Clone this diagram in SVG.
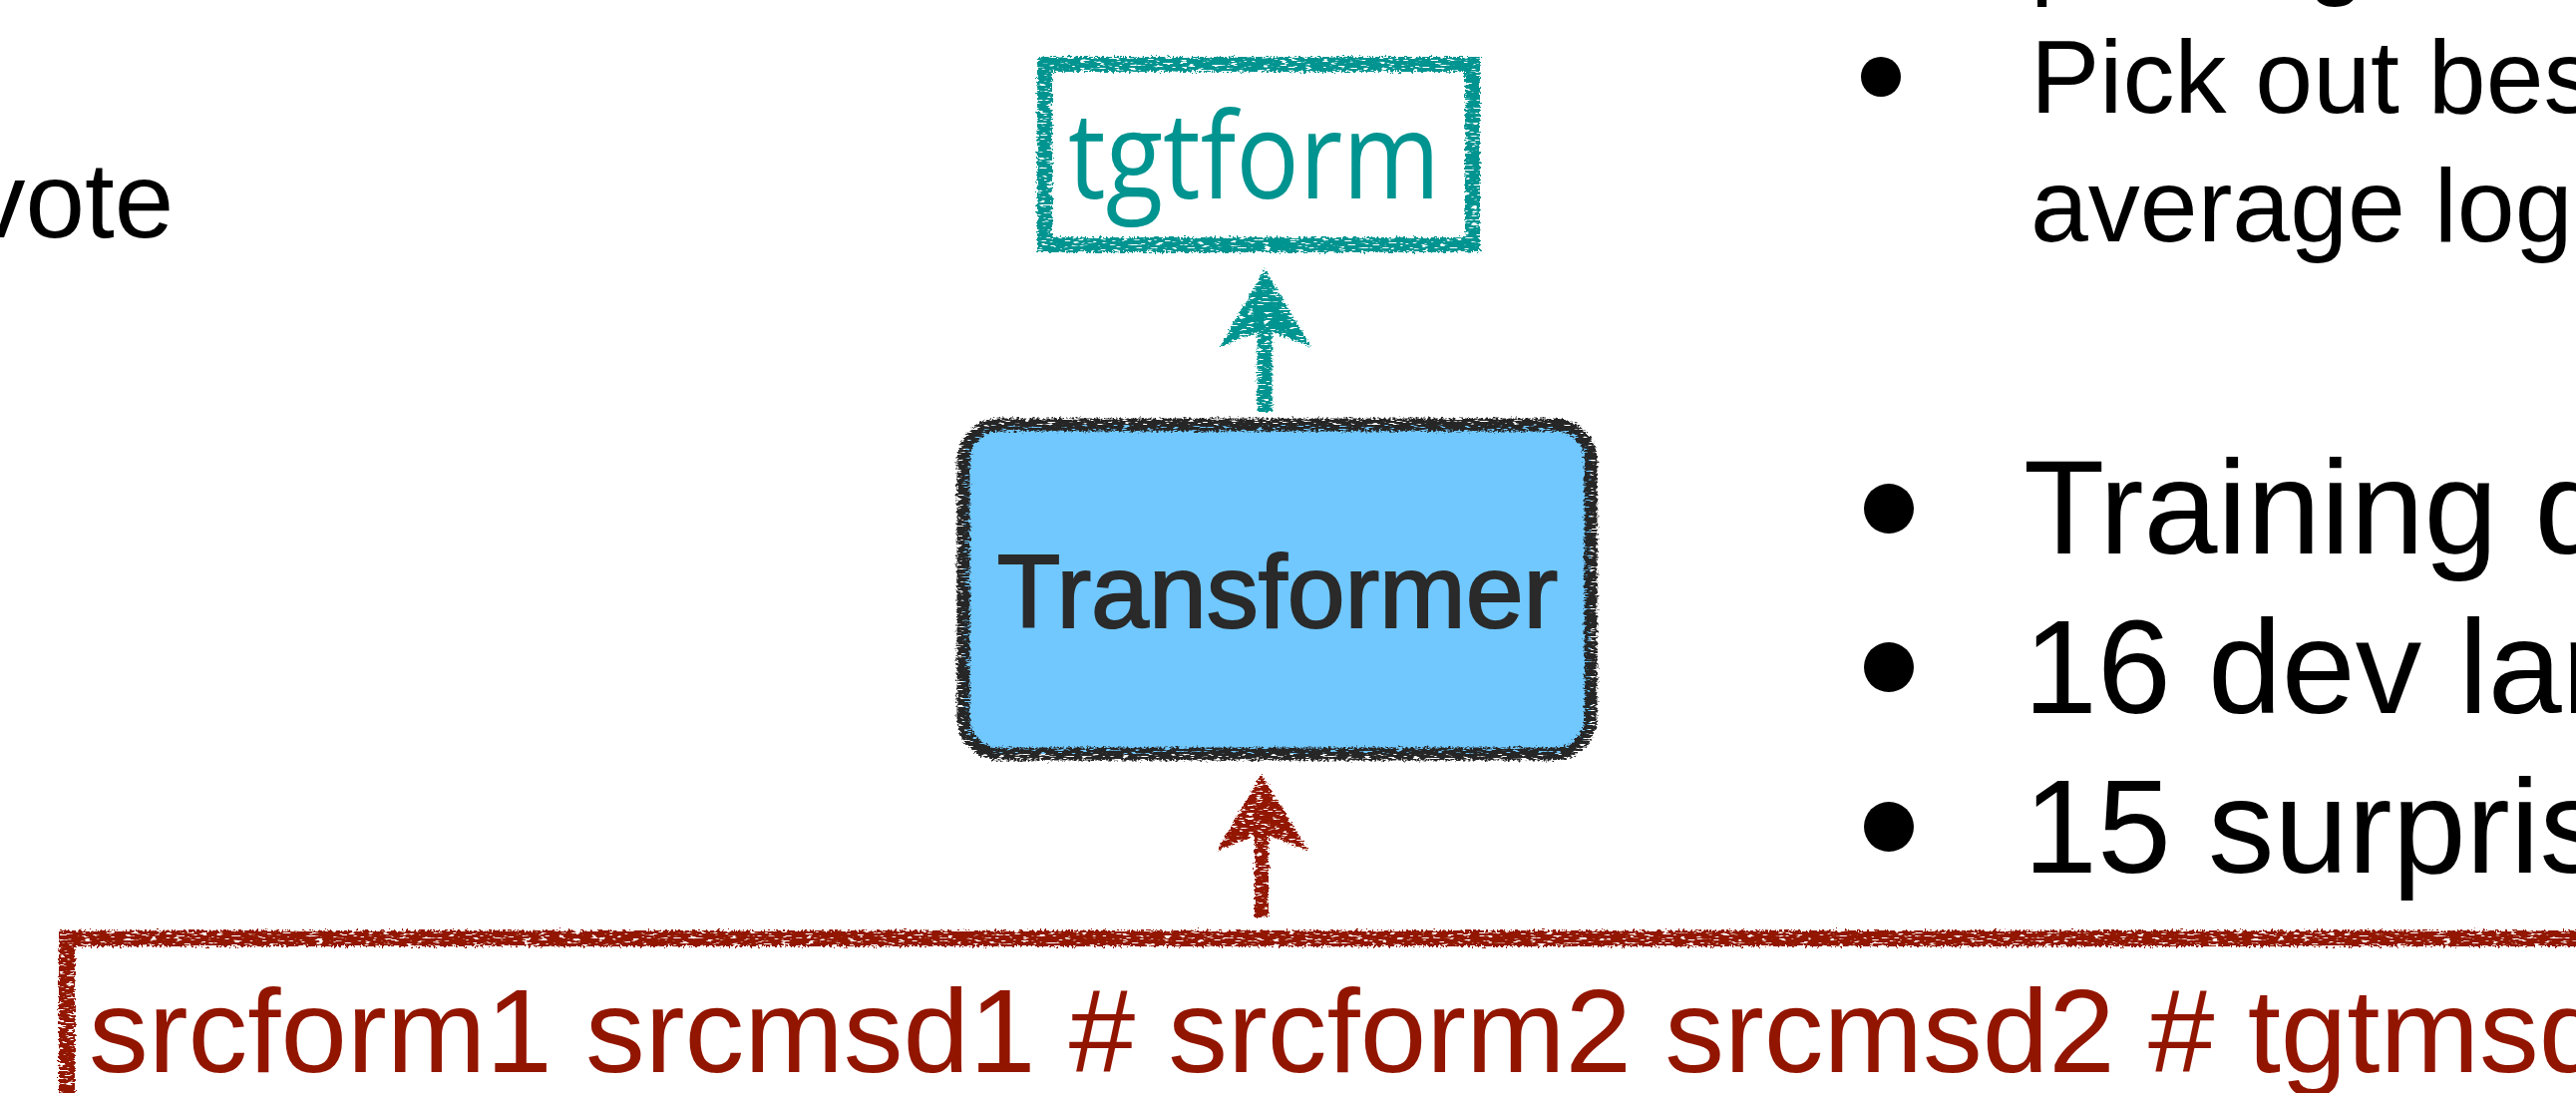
<svg xmlns="http://www.w3.org/2000/svg" width="2583" height="1096" viewBox="0 0 2583 1096">
  <style>
    .sans { font-family: "Liberation Sans", Arial, Helvetica, sans-serif; }
    .body { fill: #000000; }
    .small { font-size: 104px; }
    .big { font-size: 133px; }
    .teal { stroke: #009490; }
    .red { stroke: #921500; }
  </style>
  <defs>
    <filter id="rough" filterUnits="userSpaceOnUse" x="0" y="0" width="2583" height="1096">
      <feTurbulence type="fractalNoise" baseFrequency="0.4" numOctaves="2" seed="7" result="n"/>
      <feDisplacementMap in="SourceGraphic" in2="n" scale="7" xChannelSelector="R" yChannelSelector="G" result="d"/>
      <feTurbulence type="fractalNoise" baseFrequency="0.12 0.6" numOctaves="2" seed="3" result="n2"/>
      <feColorMatrix in="n2" type="matrix" values="0 0 0 0 0  0 0 0 0 0  0 0 0 0 0  10 0 0 0 -3.0" result="m"/>
      <feComposite in="d" in2="m" operator="in"/>
    </filter>
  </defs>
  <rect width="2583" height="1096" fill="#ffffff"/>

  <!-- left partial text -->
  <text class="sans body" x="-28" y="238" font-size="107">vote</text>

  <!-- output node -->
  <g id="tgtform">
    <rect x="1047.5" y="64.5" width="429" height="181" fill="none" class="teal" stroke-width="15" filter="url(#rough)"/>
    <text x="1071" y="199" font-family="'Open Sans', 'Noto Sans', sans-serif" font-size="120" fill="#009490" textLength="373" lengthAdjust="spacingAndGlyphs">tgtform</text>
  </g>

  <!-- model node -->
  <g id="transformer">
    <rect x="966" y="426" width="629" height="330" rx="36" ry="36" fill="#70C8FF"/>
    <rect x="966" y="426" width="629" height="330" rx="36" ry="36" fill="none" stroke="#282828" stroke-width="13" filter="url(#rough)"/>
    <text class="sans" x="1281" y="629" font-size="104" fill="#2a2a2a" stroke="#2a2a2a" stroke-width="2" text-anchor="middle">Transformer</text>
  </g>

  <!-- input node -->
  <g id="input">
    <rect x="67" y="941" width="2600" height="300" fill="none" class="red" stroke-width="16" filter="url(#rough)"/>
    <text class="sans" x="89" y="1075" font-size="119.5" fill="#921500">srcform1 srcmsd1 # srcform2 srcmsd2 # tgtmsd</text>
  </g>

  <!-- connectors -->
  <g id="connectors" filter="url(#rough)">
    <g id="arrow-out">
      <line x1="1268" y1="413" x2="1268" y2="326" stroke="#009490" stroke-width="15"/>
      <polygon points="1268,270 1315,348 1268,330 1223,348" fill="#009490"/>
    </g>
    <g id="arrow-in">
      <line x1="1265" y1="920" x2="1265" y2="832" stroke="#921500" stroke-width="14"/>
      <polygon points="1265,777 1312,853 1265,835 1220,853" fill="#921500"/>
    </g>
  </g>

  <!-- right bullet text -->
  <g id="bullets-top" class="sans body small">
    <text x="2036" y="-15">pooling</text>
    <circle cx="1886" cy="77" r="20" fill="#000"/>
    <text x="2036" y="113">Pick out best</text>
    <text x="2036" y="242">average log</text>
  </g>
  <g id="bullets-bottom" class="sans body big">
    <circle cx="1894" cy="510" r="25" fill="#000"/>
    <text x="2029" y="555">Training d</text>
    <circle cx="1894" cy="669" r="25" fill="#000"/>
    <text x="2029" y="715">16 dev lan</text>
    <circle cx="1894" cy="829" r="25" fill="#000"/>
    <text x="2029" y="875">15 surpris</text>
  </g>
</svg>
